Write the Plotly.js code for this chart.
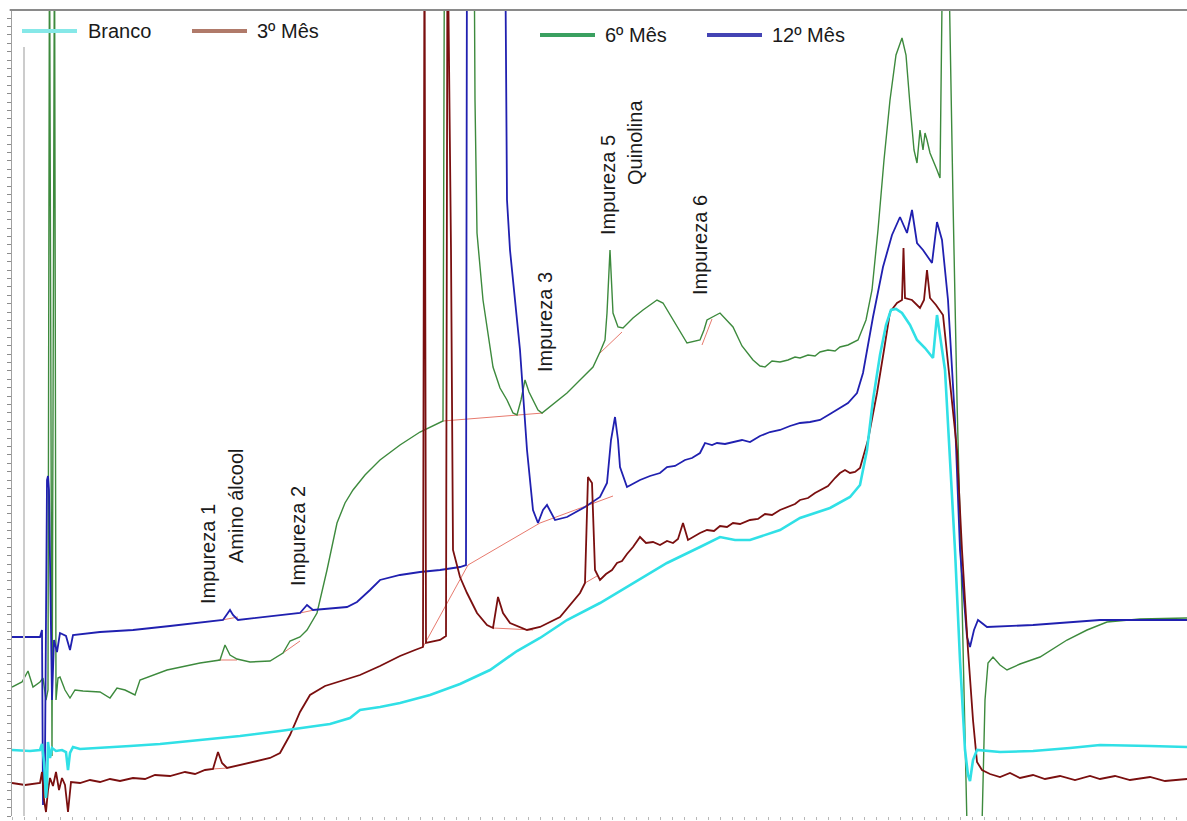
<!DOCTYPE html>
<html>
<head>
<meta charset="utf-8">
<script src="https://cdn.plot.ly/plotly-3.0.1.min.js"></script>
<style>
  html, body { margin: 0; padding: 0; background: #ffffff; }
  #chart { width: 1187px; height: 821px; }
</style>
</head>
<body>
<div id="chart"></div>
<script>
// Chromatogram overlay: blank and stability samples (3, 6 and 12 months).
// x = retention time (arbitrary units), y = detector signal (arbitrary units).

const seriesNames = ["Branco", "3º Mês", "6º Mês", "12º Mês"];

const brancoX = [12,30,40,42,44,46,47,48,50,52,56,62,66,68,70,73,80,100,130,160,200,240,280,300,330,350,360,380,400,430,460,490,517,540,567,600,633,667,700,720,735,750,780,800,830,850,860,867,873,880,886,891,896,902,910,917,925,933,937,941,945,950,955,960,965,968,970,973,977,1000,1033,1070,1100,1150,1187];
const brancoY = [66,65,66,72,54,18,30,74,58,68,65,66,64,46,63,69,67,68,70,72,76,80,85,88,92,98,106,109,113,121,132,146,165,178,196,213,233,253,269,279,276,276,286,298,308,319,331,366,416,461,491,506,507,503,491,476,468,458,501,471,446,356,266,156,66,41,35,56,66,64,65,68,71,70,69];

const mes3X = [12,25,40,42,44,46,48,50,53,56,59,62,65,68,71,80,90,100,110,120,133,145,155,170,185,195,205,213,218,222,227,250,270,280,290,300,310,325,345,360,380,400,415,423,424.5,426,440,446,447.5,451,453,460,467,477,487,493,498,503,510,527,540,560,580,585,588,592,595,600,606,612,617,622,627,633,640,646,653,660,667,673,678,683,688,695,700,707,714,720,727,733,740,750,758,765,772,780,788,795,800,808,815,820,828,835,840,845,850,855,860,868,877,884,890,897,902,903.5,905,912,920,924,927,930,936,943,950,957,962,968,973,977,982,990,1000,1010,1020,1033,1045,1060,1075,1090,1100,1115,1130,1150,1165,1187];
const mes3Y = [33,31,33,44,16,4,26,38,30,44,26,38,31,4,34,33,36,34,37,35,38,37,41,40,44,42,46,47,64,53,48,53,58,63,81,104,121,130,136,141,150,160,166,169,900,173,176,180,900,566,266,239,223,203,191,188,219,203,193,186,189,199,223,233,339,333,246,236,242,246,253,255,262,269,279,273,274,271,275,273,277,293,276,280,283,286,285,290,289,293,292,296,297,302,301,306,309,312,316,318,323,326,330,338,343,346,343,344,348,376,423,466,504,513,516,568,518,516,508,516,546,518,511,501,436,366,266,166,96,54,46,42,39,43,38,41,37,40,36,40,37,40,36,39,35,37];

const mes6X = [12,22,28,33,40,43,46,48,49.5,52,54.5,56,58,60,65,70,75,83,100,110,117,125,135,140,167,200,220,225,230,237,250,270,283,290,300,307,317,327,337,345,353,365,380,400,420,435,443,444.5,474,475,477,483,493,500,507,513,517,521,525,529,533,538,542,555,567,580,593,600,605,607,610,613,618,623,633,643,657,663,673,687,700,704,707,720,733,742,753,760,765,772,780,788,795,800,808,815,820,828,835,840,848,858,866,872,878,884,890,896,902,906,910,914,917,920,923,925,927,930,937,940,943,948,953,957,962,967,982,985,988,993,1000,1007,1020,1040,1067,1087,1107,1140,1187];
const mes6Y = [129,134,145,129,134,138,116,126,900,60,900,116,138,139,126,118,126,125,124,118,128,126,121,136,146,153,156,171,161,157,154,155,163,175,179,186,203,246,293,313,326,341,356,371,384,391,395,900,900,716,583,516,449,428,416,403,401,416,436,424,416,406,403,413,423,436,449,464,476,503,566,503,489,488,498,506,516,513,496,473,476,486,496,503,489,470,456,450,449,455,454,456,459,458,461,460,464,466,465,469,471,476,496,526,586,656,716,761,778,761,711,666,653,686,666,683,676,663,646,638,900,900,616,416,216,-10,-10,116,153,159,151,146,152,159,176,186,194,197,198];

const mes12X = [12,30,40,42,43,45,47,48,49,50,52,54,57,60,66,70,73,100,133,170,200,223,230,233,238,270,300,307,313,347,357,370,380,400,420,440,460,466,467,505,507,510,515,520,527,533,538,543,547,551,555,567,585,600,607,611,615,618,620,627,640,650,660,667,675,685,692,700,705,712,717,725,735,742,750,760,770,780,790,800,810,820,830,840,848,857,863,868,873,883,892,900,907,912,917,923,932,937,942,948,955,960,967,970,974,978,987,1033,1100,1187];
const mes12Y = [179,179,179,186,11,56,336,340,326,256,116,176,164,183,180,166,181,184,186,190,193,196,206,201,196,200,203,211,206,209,214,226,236,241,244,246,249,251,900,900,616,566,516,466,366,306,293,306,311,304,296,299,309,319,333,376,399,376,349,329,336,340,343,349,350,356,358,363,373,371,373,372,374,376,374,380,384,386,390,393,394,396,402,408,413,423,443,471,499,549,581,599,583,606,573,566,553,594,576,516,396,266,179,169,186,196,189,191,196,196];

// Integration baselines drawn under integrated peaks
const baselineSegments = [
  {x: [443,517,543], y: [395,401,403]},
  {x: [600,622], y: [463,484]},
  {x: [702,712], y: [471,497]},
  {x: [423,468], y: [169,251]},
  {x: [468,540,613], y: [251,293,320]},
  {x: [493,533], y: [188,186]},
  {x: [585,597], y: [233,240]},
  {x: [222,238], y: [196,199]},
  {x: [218,237], y: [156,156]},
  {x: [212,228], y: [47,48]},
  {x: [300,314], y: [203,206]},
  {x: [283,300], y: [163,175]}
];

// Peak identification labels
const peakLabels = ["Impureza 1", "Amino álcool", "Impureza 2", "Impureza 3", "Impureza 5", "Quinolina", "Impureza 6"];
const peakLabelX = [208, 236, 298, 545, 608, 635, 700];
const peakLabelY = [262, 310, 280, 494, 631, 673, 571];

const traceColors = ["#30e0e6", "#7a0f0f", "#3d8a3d", "#2020b0"];
const traceWidths = [2.6, 1.8, 1.4, 1.8];
const legendColors = ["#86e8e8", "#b07a6a", "#3aa060", "#4444b4"];

const seriesX = [brancoX, mes3X, mes6X, mes12X];
const seriesY = [brancoY, mes3Y, mes6Y, mes12Y];

const data = [];
baselineSegments.forEach(seg => {
  data.push({
    type: "scatter", mode: "lines", x: seg.x, y: seg.y,
    line: {color: "#e77a6e", width: 1}, hoverinfo: "skip", showlegend: false
  });
});
// draw order: green, blue, brown, cyan
[2, 3, 1, 0].forEach(i => {
  data.push({
    type: "scatter", mode: "lines", name: seriesNames[i],
    x: seriesX[i], y: seriesY[i],
    line: {color: traceColors[i], width: traceWidths[i]},
    showlegend: false
  });
});

// Legend: sample line + label
const legendPos = [
  {x0: 22, x1: 77, y: 785, tx: 86},
  {x0: 192, x1: 247, y: 785, tx: 255},
  {x0: 540, x1: 595, y: 781, tx: 603},
  {x0: 707, x1: 762, y: 781, tx: 770}
];

const shapes = [
  // top frame line
  {type: "line", xref: "paper", yref: "paper", x0: -0.002, x1: 1, y0: 1, y1: 1,
   line: {color: "#8a8a8a", width: 2}},
  // injection marker
  {type: "line", xref: "x", yref: "y", x0: 24, x1: 24, y0: 0, y1: 769,
   line: {color: "#cccccc", width: 2}}
];
const annotations = [];
legendPos.forEach((p, i) => {
  shapes.push({type: "line", xref: "x", yref: "y", x0: p.x0, x1: p.x1, y0: p.y, y1: p.y,
               line: {color: legendColors[i], width: 4}});
  annotations.push({x: p.tx, y: p.y, xref: "x", yref: "y", text: seriesNames[i],
                    showarrow: false, xanchor: "left", yanchor: "middle",
                    font: {family: "Liberation Sans, Arial, sans-serif", size: 20, color: "#1a1a1a"}});
});
peakLabels.forEach((t, i) => {
  annotations.push({x: peakLabelX[i], y: peakLabelY[i], xref: "x", yref: "y", text: t,
                    textangle: -90, showarrow: false, xanchor: "center", yanchor: "middle",
                    font: {family: "Liberation Sans, Arial, sans-serif", size: 20, color: "#1a1a1a"}});
});

const layout = {
  width: 1187, height: 821,
  margin: {l: 12, r: 0, t: 10, b: 5, pad: 0},
  paper_bgcolor: "#ffffff", plot_bgcolor: "#ffffff",
  showlegend: false,
  xaxis: {range: [12, 1187], showgrid: false, zeroline: false, showline: false,
          ticks: "outside", ticklen: 3, tickcolor: "#b8b8b8", dtick: 12, tick0: 12,
          showticklabels: false, fixedrange: true},
  yaxis: {range: [0, 806], showgrid: false, zeroline: false, showline: true,
          linecolor: "#a0a0a0", linewidth: 1, ticks: "outside", ticklen: 4,
          tickcolor: "#8c8c8c", dtick: 8.4, showticklabels: false, fixedrange: true},
  shapes: shapes,
  annotations: annotations
};

Plotly.newPlot("chart", data, layout, {displayModeBar: false, staticPlot: true});
</script>
</body>
</html>
